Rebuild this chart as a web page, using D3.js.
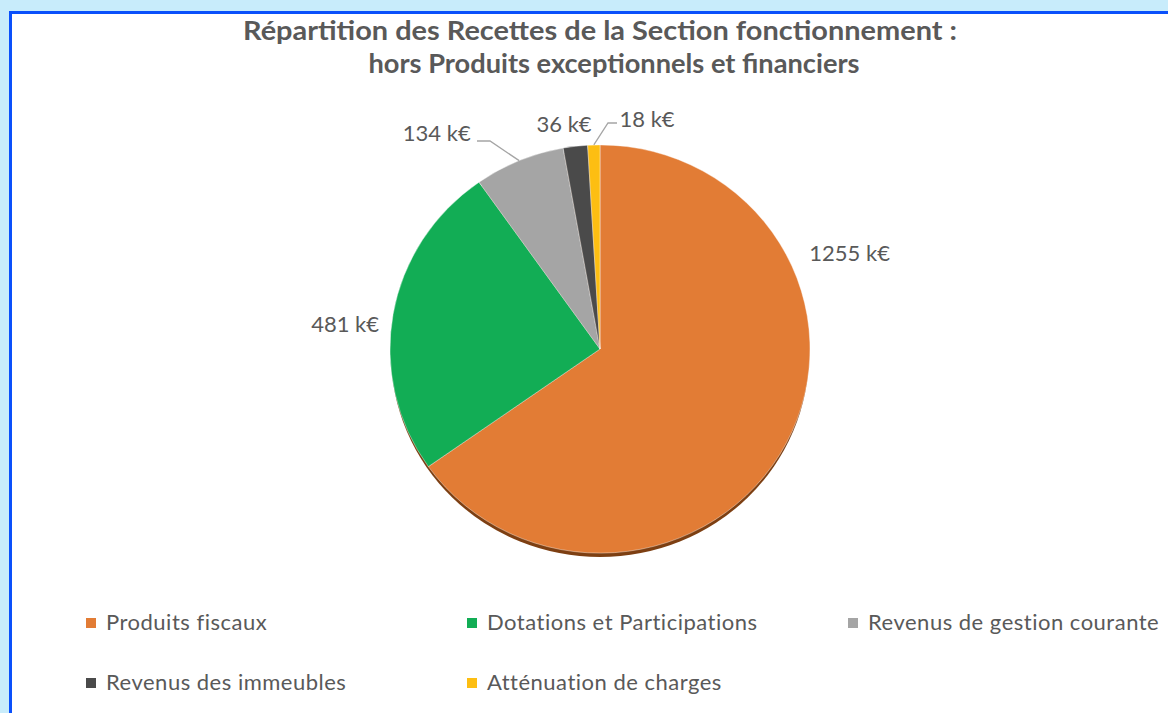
<!DOCTYPE html>
<html>
<head>
<meta charset="utf-8">
<script src="https://cdn.jsdelivr.net/npm/d3@7"></script>
<style>
  html, body { margin: 0; padding: 0; background: #c8ecfb; }
  svg { display: block; }
</style>
</head>
<body>
<div id="chartContainer"></div>
<script>
const categories = ["Produits fiscaux", "Dotations et Participations", "Revenus de gestion courante", "Revenus des immeubles", "Atténuation de charges"];
const values = [1255, 481, 134, 36, 18];
const valueLabels = ["1255 k€", "481 k€", "134 k€", "36 k€", "18 k€"];
const colors = ["#e27c35", "#12ad55", "#a5a5a5", "#4a4a4a", "#fdbe12"];
const titleLines = ["Répartition des Recettes de la Section fonctionnement :", "hors Produits exceptionnels et financiers"];

const W = 1168, H = 713;
const cx = 600, cy = 349, r = 210, squash = 0.972;

const svg = d3.select("#chartContainer").append("svg")
    .attr("width", W)
    .attr("height", H);

// frame
svg.append("rect")
    .attr("x", 10.5).attr("y", 12.5)
    .attr("width", W + 20).attr("height", H + 20)
    .attr("fill", "#fff")
    .attr("stroke", "#0a50fb")
    .attr("stroke-width", 3);

// title
const titleWidths = [714, 491];
const titleCenters = [600, 614];
svg.append("g").selectAll("text")
    .data(titleLines)
    .enter().append("text")
    .attr("x", (d, i) => titleCenters[i])
    .attr("y", (d, i) => 40 + i * 33)
    .attr("text-anchor", "middle")
    .attr("font-family", "Lato, 'Open Sans', sans-serif")
    .attr("font-weight", "bold")
    .attr("font-size", 26)
    .attr("fill", "#595959")
    .attr("textLength", (d, i) => titleWidths[i])
    .attr("lengthAdjust", "spacingAndGlyphs")
    .text(d => d);

const data = categories.map((c, i) => ({ name: c, value: values[i], label: valueLabels[i], color: colors[i] }));

const pie = d3.pie().sort(null).value(d => d.value);
const arcs = pie(data);
const arc = d3.arc().innerRadius(0).outerRadius(r);

const pieG = svg.append("g")
    .attr("transform", `translate(${cx},${cy}) scale(1,${squash})`);

// shadow under the pie
pieG.append("circle")
    .attr("cx", 0).attr("cy", 5)
    .attr("r", r - 1)
    .attr("fill", "#7d3f12");

pieG.selectAll("path.slice")
    .data(arcs)
    .enter().append("path")
    .attr("class", "slice")
    .attr("d", arc)
    .attr("fill", d => d.data.color)
    .attr("stroke", "#fff")
    .attr("stroke-opacity", 0.5)
    .attr("stroke-width", 0.8);

// label placement: angle (deg, clockwise from top) and distance from centre
const labelPlace = [
    { a: 69.2, rad: 267 },
    { a: -84.6, rad: 256 },
    { a: -37.2, rad: 270 },
    { a: -9.1, rad: 227 },
    { a: 11.6, rad: 234 }
];

const labelG = svg.append("g")
    .attr("font-family", "Lato, 'Open Sans', sans-serif")
    .attr("font-size", 22)
    .attr("fill", "#595959");

labelG.selectAll("text")
    .data(arcs)
    .enter().append("text")
    .attr("text-anchor", "middle")
    .attr("x", (d, i) => cx + labelPlace[i].rad * Math.sin(labelPlace[i].a * Math.PI / 180))
    .attr("y", (d, i) => cy - labelPlace[i].rad * Math.cos(labelPlace[i].a * Math.PI / 180) + 7)
    .text(d => d.data.label);

// leader lines for the small slices
const line = d3.line();
function edgePoint(d) {
    const mid = (d.startAngle + d.endAngle) / 2;
    return [cx + r * Math.sin(mid), cy - r * squash * Math.cos(mid)];
}
svg.append("path")
    .attr("d", line([[477, 141], [490, 141], edgePoint(arcs[2])]))
    .attr("fill", "none").attr("stroke", "#a5a5a5").attr("stroke-width", 1.3);
svg.append("path")
    .attr("d", line([[617, 123], [608, 123], edgePoint(arcs[4])]))
    .attr("fill", "none").attr("stroke", "#a5a5a5").attr("stroke-width", 1.3);

// legend
const legend = svg.append("g")
    .attr("font-family", "Lato, 'Open Sans', sans-serif")
    .attr("font-size", 22)
    .attr("letter-spacing", 0.5)
    .attr("fill", "#595959");

const items = legend.selectAll("g")
    .data(data)
    .enter().append("g")
    .attr("transform", (d, i) => `translate(${86 + (i % 3) * 381},${630 + Math.floor(i / 3) * 60})`);

items.append("rect")
    .attr("x", 0).attr("y", -12)
    .attr("width", 10).attr("height", 10)
    .attr("fill", d => d.color);

items.append("text")
    .attr("x", 20).attr("y", 0)
    .text(d => d.name);
</script>
</body>
</html>
